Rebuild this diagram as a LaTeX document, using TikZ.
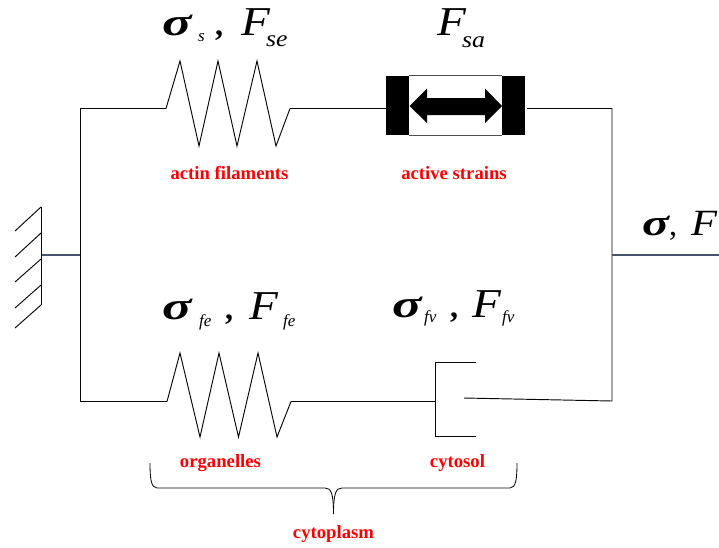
\documentclass[tikz,border=0pt]{standalone}
\usepackage{fontspec}
\setmainfont{Liberation Serif}
\definecolor{slate}{HTML}{44546A}
\tikzset{
  wire/.style={line width=0.95pt,draw=black!90!slate,line join=miter},
  slatewire/.style={line width=1.1pt,draw=slate},
  tag/.style={text=red,font=\fontsize{18.7}{20}\selectfont\bfseries,inner sep=0pt,anchor=base},
  sym/.style={inner sep=0pt,anchor=base west},
}
\newcommand{\bigsig}{\scalebox{1.4}[1]{\fontsize{39}{40}\selectfont\bfseries\itshape σ}}
\newcommand{\bigF}{\scalebox{1.15}[1]{\fontsize{41}{42}\selectfont\itshape F}}
\newcommand{\subs}[1]{\scalebox{1.12}[1]{\fontsize{23}{24}\selectfont\itshape #1}}
\newcommand{\subsm}[1]{\fontsize{17}{18}\selectfont\itshape #1}
\newcommand{\cma}{\fontsize{32}{32}\selectfont\bfseries ,}
\begin{document}
\begin{tikzpicture}[x=1pt,y=-1pt]
\useasboundingbox (0,0) rectangle (719,547);
% named points
\coordinate (wallT) at (41.5,207); \coordinate (wallB) at (41.5,305);
\coordinate (wallM) at (41.5,255); \coordinate (lbus) at (80.5,255);
\coordinate (ltop) at (80.5,108.5); \coordinate (lbot) at (80.5,401.5);
\coordinate (rtop) at (612,108.5); \coordinate (rbot) at (612,401);
\coordinate (rbus) at (612,255); \coordinate (out) at (719,255);
\coordinate (s1a) at (166,108.5); \coordinate (s1b) at (290,108.5);
\coordinate (s2a) at (167,401.5); \coordinate (s2b) at (291,401.5);
\coordinate (dash) at (435,401.5); \coordinate (piston) at (464,398);
% wall
\draw[wire] (wallT) -- (wallB);
\draw[wire] (41,207) -- (15,231) (41,233) -- (15,257) (41,259) -- (15,282) (41,285) -- (15,308) (41,305) -- (15,328);
\draw[slatewire] (wallM) -- (lbus);
% frame
\draw[wire] (s1a) -- (ltop) -- (lbot) -- (s2a);
\draw[wire] (piston) -- (rbot) -- (rtop) -- (527,108.5);
\draw[slatewire] (rbus) -- (out);
% top spring
\draw[wire] (s1a) -- (180,61) -- (199,146) -- (218,61) -- (237,146) -- (257,61) -- (276,146) -- (s1b);
\draw[wire] (s1b) -- (386,108.5);
% active element
\node[fill=black,minimum width=23pt,minimum height=59pt,inner sep=0pt] (barL) at (397.5,105.5) {};
\node[fill=black,minimum width=23pt,minimum height=59pt,inner sep=0pt] (barR) at (513.5,105.5) {};
\draw[line width=0.9pt,draw=black!70] (barL.north east) -- (barR.north west) (barL.south east) -- (barR.south west);
\fill[black] (409.5,106) -- (427,88.5) -- (427,98) -- (485,98) -- (485,88.5) -- (502,106) -- (485,123) -- (485,115) -- (427,115) -- (427,123) -- cycle;
% bottom spring
\draw[wire] (s2a) -- (180,353) -- (200,437) -- (219,353) -- (238.5,437) -- (258,353) -- (277,437) -- (s2b);
\draw[wire] (s2b) -- (dash);
% dashpot
\draw[wire] (476,362) -- (435.5,362) -- (435.5,436) -- (476,436);
% brace
\draw[wire,line width=0.85pt] (150,463) .. controls (150,478) and (151,488) .. (157,488) -- (325,488) .. controls (331,488) and (333.5,493) .. (333.5,514);
\draw[wire,line width=0.85pt] (517,463) .. controls (517,478) and (516,488) .. (510,488) -- (342,488) .. controls (336,488) and (333.5,493) .. (333.5,514);
% symbols row 1
\node[sym] (a1) at (162,35) {\bigsig};
\node[sym] (a2) at (198,41) {\subsm{s}};
\node[sym] (a3) at (215,35) {\cma};
\node[sym] (a4) at (241,35) {\bigF\kern-3.8pt\raisebox{-11pt}{\subs{se}}};
\node[sym] (b1) at (437,35) {\bigF\kern-3.8pt\raisebox{-12pt}{\subs{sa}}};
% symbols row 2
\node[sym] (c1) at (162,319) {\bigsig};
\node[sym] (c2) at (199,326) {\subsm{fe}};
\node[sym] (c3) at (225,319) {\cma};
\node[sym] (c4) at (249,319) {\bigF};
\node[sym] (c5) at (283,326) {\subsm{fe}};
\node[sym] (d1) at (392,317) {\bigsig};
\node[sym] (d2) at (424,322) {\subsm{fv}};
\node[sym] (d3) at (450,317) {\cma};
\node[sym] (d4) at (472,317) {\bigF};
\node[sym] (d5) at (502,322) {\subsm{fv}};
% output symbol
\node[sym] (e1) at (642,235) {\scalebox{1.35}[1]{\fontsize{37}{38}\selectfont\bfseries\itshape σ}};
\node[sym] (e2) at (669,235) {\fontsize{32}{32}\selectfont ,};
\node[sym] (e3) at (691,235) {\scalebox{1.15}[1]{\fontsize{37}{38}\selectfont\itshape F}};
% labels
\node[tag] (actin) at (229.5,179.5) {actin filaments};
\node[tag] (active) at (454,179.5) {active strains};
\node[tag] (org) at (220.5,467) {organelles};
\node[tag] (cyto) at (457.5,467.5) {cytosol};
\node[tag] (plasm) at (333.5,538.5) {cytoplasm};
\end{tikzpicture}
\end{document}
